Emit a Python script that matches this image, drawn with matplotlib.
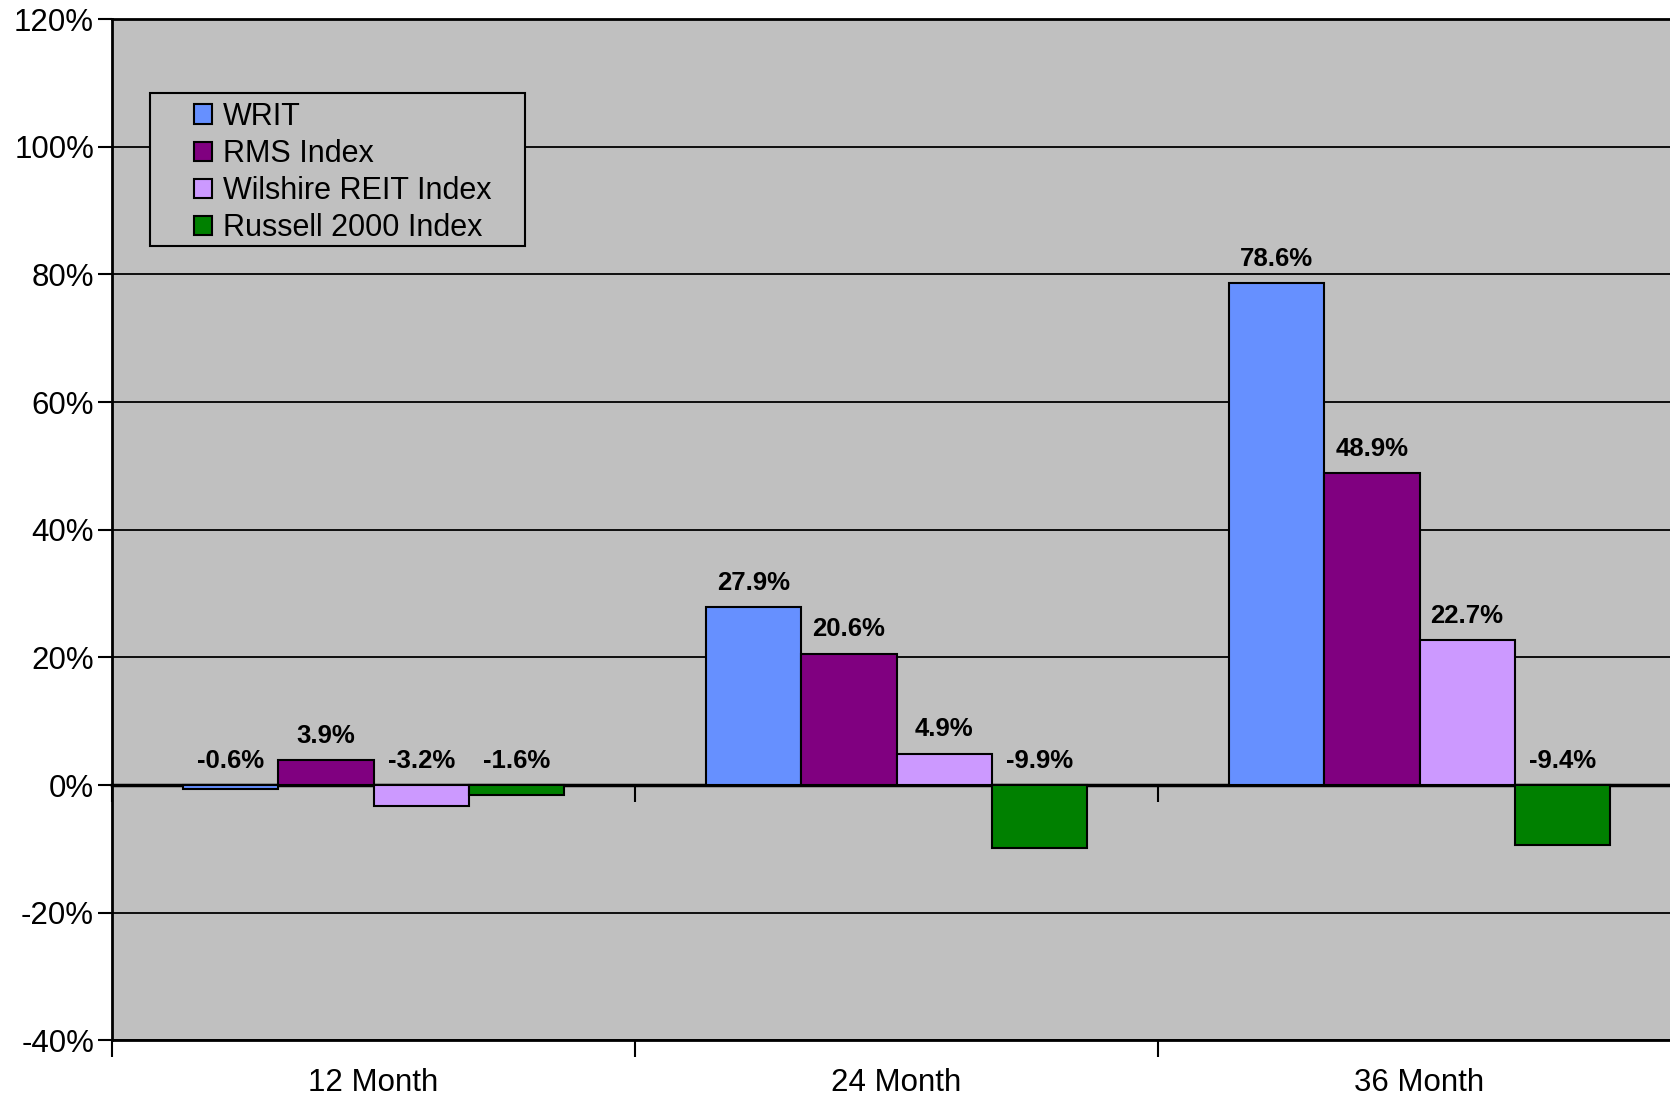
import matplotlib
matplotlib.use("Agg")
import matplotlib.pyplot as plt
import numpy as np
from matplotlib.patches import Patch, Rectangle
from matplotlib.ticker import FuncFormatter

plt.rcParams['font.family'] = ['Liberation Sans', 'DejaVu Sans']
plt.rcParams['axes.unicode_minus'] = False

periods = ['12 Month', '24 Month', '36 Month']
series = ['WRIT', 'RMS Index', 'Wilshire REIT Index', 'Russell 2000 Index']
writ = [-0.6, 27.9, 78.6]
rms = [3.9, 20.6, 48.9]
wilshire = [-3.2, 4.9, 22.7]
russell = [-1.6, -9.9, -9.4]
colors = ['#6690FF', '#800080', '#CC99FF', '#008000']

fig = plt.figure(figsize=(16.7, 11), dpi=100)
ax = fig.add_axes([0.0671, 0.0541, 0.9395, 0.9285])
ax.set_facecolor('#C0C0C0')

x = np.arange(len(periods))
w = 0.182
for i, (vals, c) in enumerate(zip([writ, rms, wilshire, russell], colors)):
    pos = x + (i - 1.5) * w
    ax.bar(pos, vals, w, color=c, edgecolor='black', linewidth=1.5, zorder=3)
    for px, v in zip(pos, vals):
        ax.annotate(f'{v:.1f}%', (px, max(v, 0)), xytext=(0, 9),
                    textcoords='offset points', ha='center', va='bottom',
                    fontsize=18.5, fontweight='bold', zorder=5)

ax.set_xlim(-0.5, 2.5)
ax.set_ylim(-40, 120)
ax.set_yticks(np.arange(-40, 121, 20))
ax.yaxis.set_major_formatter(FuncFormatter(lambda v, p: f'{v:.0f}%'))
ax.grid(axis='y', color='black', linewidth=1.3, zorder=1)
ax.set_axisbelow(True)

ax.set_xticks(x)
ax.set_xticklabels(periods, fontsize=22.5)
ax.set_xticks(np.arange(-0.5, 3.0, 1.0), minor=True)
ax.tick_params(axis='x', which='major', length=0, pad=20)
ax.tick_params(axis='x', which='minor', length=12, width=1.5, direction='out')
ax.tick_params(axis='y', labelsize=22.5, length=10, width=1.5, pad=3)

for s in ['left', 'bottom', 'top']:
    ax.spines[s].set_linewidth(2)
ax.spines['right'].set_visible(False)

# category axis crossing at zero
zax = ax.secondary_xaxis(0.25)
zax.set_xticks(np.arange(-0.5, 3.0, 1.0))
zax.tick_params(axis='x', length=12, width=1.5, direction='out', labelbottom=False)
zax.spines['bottom'].set_linewidth(2.5)
zax.spines['bottom'].set_zorder(4)

# legend box (gray fill hides the gridline behind it)
ax.add_patch(Rectangle((0.0242, 0.7779), 0.239, 0.1498, transform=ax.transAxes,
                       facecolor='#C0C0C0', edgecolor='black', linewidth=1.5, zorder=6))
handles = [Patch(facecolor=c, edgecolor='black', linewidth=1.5) for c in colors]
leg = ax.legend(handles, series, loc='upper left', bbox_to_anchor=(0.0427, 0.934),
                frameon=False, fontsize=22, borderpad=0, handlelength=0.59,
                handleheight=0.59, handletextpad=0.35, labelspacing=0.235)
leg.set_zorder(7)

fig.savefig('out.png', dpi=100)
